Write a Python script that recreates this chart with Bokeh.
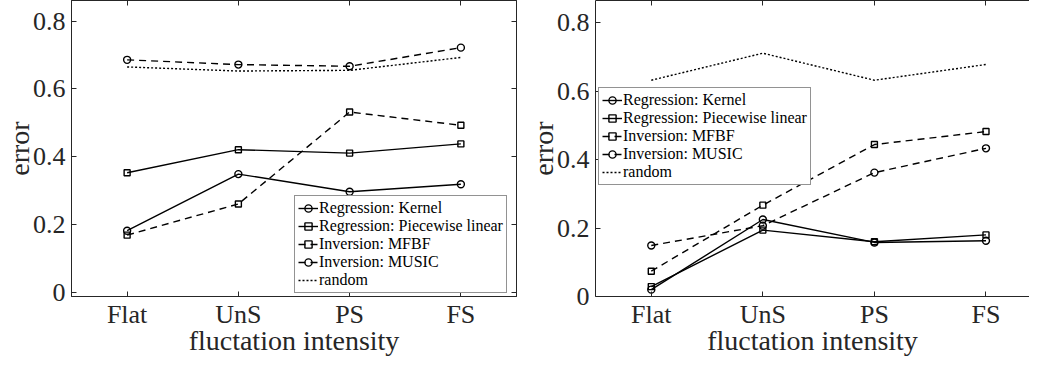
from bokeh.plotting import figure
from bokeh.models import LinearAxis, FixedTicker, Range1d, Legend, LegendItem
from bokeh.layouts import row
from bokeh.embed import file_html
from bokeh.resources import INLINE

categories = ["Flat", "UnS", "PS", "FS"]
x_pos = [1, 2, 3, 4]
series_names = ["Regression: Kernel", "Regression: Piecewise linear",
                "Inversion: MFBF", "Inversion: MUSIC", "random"]

# left panel
left_kernel = [0.182, 0.349, 0.297, 0.319]
left_piecewise = [0.353, 0.421, 0.411, 0.438]
left_mfbf = [0.169, 0.261, 0.532, 0.493]
left_music = [0.686, 0.672, 0.667, 0.722]
left_random = [0.665, 0.653, 0.655, 0.693]

# right panel
right_kernel = [0.020, 0.225, 0.158, 0.163]
right_piecewise = [0.029, 0.194, 0.160, 0.180]
right_mfbf = [0.074, 0.267, 0.444, 0.482]
right_music = [0.149, 0.207, 0.362, 0.433]
right_random = [0.632, 0.711, 0.632, 0.678]

y_ticks = [0, 0.2, 0.4, 0.6, 0.8]
y_tick_labels = ["0", "0.2", "0.4", "0.6", "0.8"]
x_label = "fluctation intensity"
y_label = "error"

FONT = "Liberation Serif"
TXT = "#262626"
styles = [("solid", "circle"), ("solid", "square"), ("dashed", "square"),
          ("dashed", "circle"), ("dotted", None)]
DASH = {"solid": "solid", "dashed": "7 5", "dotted": "2 2"}


def style_axis(ax, labels=True):
    ax.axis_line_color = TXT
    ax.major_tick_line_color = TXT
    ax.major_tick_in = 5
    ax.major_tick_out = 0
    ax.minor_tick_line_color = None
    if labels:
        ax.major_label_text_font = FONT
        ax.major_label_text_font_size = "26px"
        ax.major_label_text_color = TXT
        ax.axis_label_text_font = FONT
        ax.axis_label_text_font_size = "28px"
        ax.axis_label_text_font_style = "normal"
        ax.axis_label_text_color = TXT
    else:
        ax.major_label_text_font_size = "0px"
        ax.major_label_text_color = None
        ax.major_label_standoff = 0


def panel(series, y_range, width, mbl, mbr, right_axis, legend_loc):
    p = figure(width=width, height=358, output_backend="svg", toolbar_location=None,
               x_range=Range1d(0.5, right_axis if isinstance(right_axis, float) else 4.5),
               y_range=Range1d(*y_range),
               min_border_left=mbl, min_border_right=mbr, min_border_top=0,
               min_border_bottom=0)
    p.xgrid.grid_line_color = None
    p.ygrid.grid_line_color = None
    p.background_fill_color = "white"
    p.border_fill_color = "white"

    p.xaxis.ticker = FixedTicker(ticks=x_pos)
    p.xaxis.major_label_overrides = {x: c for x, c in zip(x_pos, categories)}
    p.xaxis.axis_label = x_label
    p.yaxis.ticker = FixedTicker(ticks=y_ticks)
    p.yaxis.major_label_overrides = {t: l for t, l in zip(y_ticks, y_tick_labels)}
    p.yaxis.axis_label = y_label
    for ax in p.xaxis:
        style_axis(ax)
        ax.major_label_standoff = 3
        ax.axis_label_standoff = -7
        ax.axis_label_text_baseline = "bottom"
    for ax in p.yaxis:
        style_axis(ax)
        ax.major_label_standoff = 6
        ax.axis_label_standoff = -5

    top = LinearAxis(ticker=FixedTicker(ticks=x_pos))
    style_axis(top, labels=False)
    p.add_layout(top, "above")
    if right_axis is True:
        rax = LinearAxis(ticker=FixedTicker(ticks=y_ticks))
        style_axis(rax, labels=False)
        p.add_layout(rax, "right")
        p.outline_line_color = TXT
    else:
        p.outline_line_color = None

    items = []
    for name, vals, (dash, marker) in zip(series_names, series, styles):
        rs = [p.line(x_pos, vals, line_color="black", line_width=1.4,
                     line_dash=DASH[dash])]
        if marker:
            rs.append(p.scatter(x_pos, vals, marker=marker,
                                size=7 if marker == "circle" else 6,
                                line_color="black", line_width=1.4, fill_color=None))
        items.append(LegendItem(label=name, renderers=rs))
    leg = Legend(items=items, location=legend_loc)
    leg.label_text_font = FONT
    leg.label_text_font_size = "16px"
    leg.label_text_color = "black"
    leg.border_line_color = TXT
    leg.border_line_width = 1
    leg.background_fill_alpha = 1
    leg.padding = 3
    leg.spacing = 0
    leg.margin = 0
    leg.glyph_width = 20
    leg.glyph_height = 18
    leg.label_height = 18
    leg.label_standoff = 1
    p.add_layout(leg)
    return p


left = panel([left_kernel, left_piecewise, left_mfbf, left_music, left_random],
             (-0.012, 0.861), 524, 62, 8, True, (223, 3))
right = panel([right_kernel, right_piecewise, right_mfbf, right_music, right_random],
              (0.0, 0.865), 505, 64, 0, 4.39, (3, 111))

layout = row(left, right)
open("out.html", "w").write(file_html(layout, INLINE))
